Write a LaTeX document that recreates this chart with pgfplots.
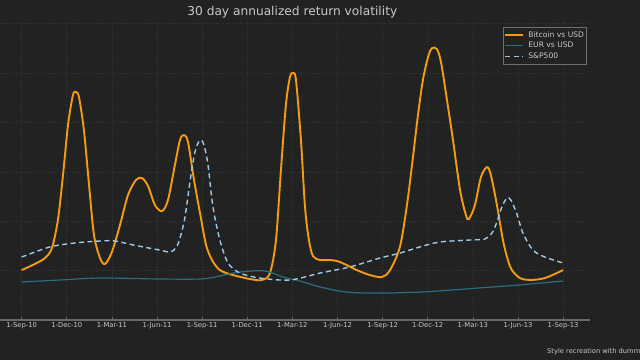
\documentclass[border=0pt]{standalone}
\usepackage{pgfplots}
\pgfplotsset{compat=1.18}
\usepackage{fontspec}
\setmainfont{DejaVu Sans}
\definecolor{bg}{HTML}{222222}
\definecolor{btc}{HTML}{F39C12}
\definecolor{eur}{HTML}{2B6C7E}
\definecolor{spx}{HTML}{9ECAE9}
\definecolor{txt}{HTML}{C8C8C8}
\definecolor{gridc}{HTML}{363636}
\definecolor{axc}{HTML}{6A6A6A}
\definecolor{legb}{HTML}{707070}
\begin{document}
\begin{tikzpicture}
\fill[bg] (0pt,0pt) rectangle (640pt,360pt);
\begin{axis}[
  at={(0pt,40pt)}, anchor=south west,
  scale only axis, width=590pt, height=298pt,
  xmin=-1.44, xmax=37.79, ymin=0, ymax=120.7,
  axis x line*=bottom, axis y line*=left,
  x axis line style={-, draw=axc, line width=1.3pt},
  y axis line style={draw=none},
  ytick={20,40,60,80,100,120}, yticklabels={}, ytick style={draw=none},
  xtick={0,3,6,9,12,15,18,21,24,27,30,33,36},
  xticklabels={1-Sep-10,1-Dec-10,1-Mar-11,1-Jun-11,1-Sep-11,1-Dec-11,1-Mar-12,1-Jun-12,1-Sep-12,1-Dec-12,1-Mar-13,1-Jun-13,1-Sep-13},
  tick align=inside, major tick length=3pt,
  xtick style={draw=axc, line width=0.6pt},
  xticklabel style={text=txt, font=\fontsize{6.8}{8}\selectfont, yshift=1pt},
  /pgf/number format/assume math mode=true,
  grid=major, major grid style={gridc, dotted, line width=0.6pt},
  legend style={fill=bg, draw=legb, text=txt, font=\fontsize{7.6}{9}\selectfont,
    at={(0.9944,0.983)}, anchor=north east, inner xsep=1.5pt, inner ysep=3pt,
    row sep=1.5pt, cells={anchor=west},
    nodes={inner sep=1pt, text height=5.8pt, text depth=1.5pt},
    /tikz/every odd column/.append style={column sep=3pt}},
  legend image code/.code={\draw[#1] (0pt,0pt) -- (18pt,0pt);},
]
\addplot[btc, line width=1.9pt, smooth] coordinates {
(0,20.2) (0.88,22.7) (1.55,25.1) (2.01,29.1) (2.41,40.5) (2.75,58.7) (3.08,78.9) (3.41,91.1) (3.61,92.3) (3.81,90.3) (4.14,76.9) (4.48,54.7) (4.81,34.4) (5.21,25.1) (5.54,22.7) (6.0,27.5) (6.54,38.5) (7.07,50.6) (7.60,56.7) (8.00,57.5) (8.40,54.3) (8.86,46.6) (9.33,44.1) (9.73,48.6) (10.19,62.8) (10.53,72.9) (10.79,74.9) (11.06,72.1) (11.46,56.7) (11.86,43.3) (12.26,30.4) (12.66,24.3) (13.18,20.2) (14.05,18.2) (15.18,16.6) (15.98,16.2) (16.51,19.0) (16.91,32.4) (17.24,60.7) (17.57,87.1) (17.84,98.4) (18.04,100.0) (18.24,97.2) (18.57,72.9) (18.84,45.8) (19.10,32.4) (19.37,25.9) (19.83,24.3) (20.5,24.3) (21.16,23.5) (22.29,20.2) (23.16,18.2) (23.96,17.4) (24.49,20.2) (25.15,29.6) (25.62,46.6) (26.02,66.0) (26.35,83.0) (26.68,97.2) (27.02,106.5) (27.28,110.1) (27.61,109.7) (27.88,104.5) (28.28,89.1) (28.68,72.9) (29.15,52.6) (29.54,42.5) (29.74,40.9) (30.14,46.6) (30.54,57.9) (30.94,61.9) (31.20,58.7) (31.60,46.6) (32.0,32.4) (32.33,24.3) (32.6,20.2) (33.13,17.0) (33.80,16.2) (34.79,17.0) (36,20.2)
};
\addlegendentry{Bitcoin vs USD}
\addplot[eur, line width=1.2pt, smooth] coordinates {
(0,15.4) (2.55,16.2) (5.21,17.0) (9.2,16.6) (11.86,16.6) (12.85,17.4) (14.05,19.0) (15.18,19.8) (15.84,20.0) (16.51,19.4) (17.38,17.4) (18.5,15.8) (19.83,13.4) (21.63,11.3) (23.82,10.9) (26.48,11.3) (28.48,12.1) (30.47,13.0) (33.13,14.2) (36,15.8)
};
\addlegendentry{EUR vs USD}
\addplot[spx, line width=1.4pt, smooth, dash pattern=on 5pt off 3.5pt] coordinates {
(0,25.5) (1.88,29.6) (3.54,31.2) (5.21,32.0) (6.2,32.0) (7.4,30.4) (9.2,28.3) (9.86,27.5) (10.26,29.2) (10.53,33.2) (10.86,41.7) (11.19,55.9) (11.52,68.0) (11.86,72.9) (12.12,70.9) (12.39,62.8) (12.72,45.8) (13.18,32.4) (13.72,23.1) (14.52,19.0) (15.84,17.0) (17.84,16.2) (19.83,19.0) (21.83,21.5) (23.82,25.1) (25.15,27.1) (26.48,29.6) (27.81,31.6) (29.81,32.4) (30.8,32.8) (31.27,35.2) (31.6,39.7) (31.93,45.8) (32.27,49.4) (32.53,48.6) (32.93,42.9) (33.33,35.2) (34.0,28.3) (34.79,25.5) (36,23.1)
};
\addlegendentry{S\&P500}
\end{axis}
\node[text=txt, font=\fontsize{12.2}{14}\selectfont, anchor=base, inner sep=0pt] at (292.3pt,344.7pt) {30 day annualized return volatility};
\node[text=txt, font=\fontsize{6.7}{8}\selectfont, anchor=base west, inner sep=0pt] at (547pt,6.5pt) {Style recreation with dummy data};
\pgfresetboundingbox
\path (0pt,0pt) rectangle (640pt,360pt);
\end{tikzpicture}
\end{document}
